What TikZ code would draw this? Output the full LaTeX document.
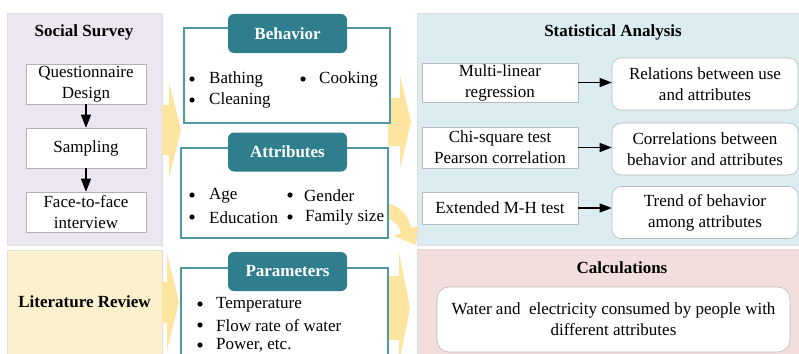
\documentclass[tikz,border=0pt]{standalone}
\usepackage{fontspec}
\setmainfont{Liberation Serif}
\usetikzlibrary{arrows.meta}
\definecolor{lav}{HTML}{EBE6F0}
\definecolor{litY}{HTML}{FDF0CD}
\definecolor{statB}{HTML}{DCEDF2}
\definecolor{calcP}{HTML}{F2DFDD}
\definecolor{tealT}{HTML}{2E7E8D}
\definecolor{tealF}{HTML}{4C9AA6}
\definecolor{arrY}{HTML}{FDE5A0}
\tikzset{
  panel/.style={draw=gray!25, line width=0.4pt},
  sbox/.style={draw=gray!60, fill=white, line width=0.6pt, align=center, inner sep=1pt, minimum width=120pt, minimum height=40pt},
  lbox/.style={draw=gray!55, fill=white, line width=0.6pt, align=center, inner sep=1pt, minimum width=156pt},
  rbox/.style={draw=gray!55, fill=white, line width=0.6pt, rounded corners=9pt, align=center, inner sep=1pt, minimum width=186pt, minimum height=52pt},
  frame/.style={draw=tealF, fill=white, line width=1.1pt, inner sep=0pt},
  tab/.style={fill=tealT, text=white, font=\fontsize{17}{21}\selectfont\bfseries, rounded corners=6pt, minimum width=119pt, minimum height=39pt, inner sep=0pt},
  bt/.style={anchor=west, inner sep=0pt},
  ttl/.style={font=\fontsize{17}{21}\selectfont\bfseries, inner sep=0pt},
  blk/.style={-{Triangle[length=13pt,width=10pt]}, line width=1.3pt},
  blkh/.style={-{Triangle[length=12pt,width=9pt]}, line width=1.3pt},
  yarr/.style={fill=arrY}
}
\begin{document}
\begin{tikzpicture}[x=1pt,y=-1pt, font=\fontsize{17}{21}\selectfont]
\useasboundingbox (0,0) rectangle (799,353);
% panels
\fill[white] (0,0) rectangle (799,353);
\path[panel, fill=lav] (7,13) rectangle (162,245);
\path[panel, fill=litY] (7,250) rectangle (162,356);
\path[panel, fill=statB] (417,13) rectangle (802,245);
\path[panel, fill=calcP] (417,249) rectangle (802,356);
% yellow arrows
\fill[yarr] (162,105) -- (169,105) -- (169,82) -- (181,130) -- (169,178) -- (169,155) -- (162,155) -- cycle;
\fill[yarr] (162,282) -- (167,282) -- (167,253) -- (179,302) -- (167,351) -- (167,323) -- (162,323) -- cycle;
\fill[yarr] (388,98) -- (400,98) -- (400,75) -- (411,122) -- (400,169) -- (400,146) -- (388,146) -- cycle;
\fill[yarr] (388,276) -- (399,276) -- (399,252) -- (410,308) -- (399,364) -- (399,340) -- (388,340) -- cycle;
\fill[yarr] (380,203) .. controls (398,203) and (408,213) .. (411,228) -- (418,226) -- (416,245) -- (394,236) -- (401,233) .. controls (399,224) and (392,218) .. (380,218) -- cycle;
% social survey
\node[ttl] (sst) at (84,32) {Social Survey};
\node[sbox] (qd) at (86,84) {Questionnaire\\Design};
\node[sbox] (sa) at (86,148) {Sampling};
\node[sbox] (ff) at (86,212) {Face-to-face\\interview};
\draw[blk] (qd.south) -- (sa.north);
\draw[blk] (sa.south) -- (ff.north);
\node[ttl] (lrt) at (84.5,302) {Literature Review};
% middle frames
\node[frame, minimum width=206pt, minimum height=95pt] (behf) at (287,75.5) {};
\node[tab] (beh) at (287.5,33.5) {Behavior};
\node[frame, minimum width=207pt, minimum height=90pt] (attf) at (284.5,193) {};
\node[tab] (att) at (287.5,152) {Attributes};
\node[frame, minimum width=207pt, minimum height=100pt] (parf) at (284.5,318) {};
\node[tab] (par) at (287.5,271.5) {Parameters};
% bullets behavior
\fill (192,79) circle (2.6);
\node[bt] (b1) at (209,79.5) {Bathing};
\fill (303,79) circle (2.6);
\node[bt] (b2) at (319,79.5) {Cooking};
\fill (192,100) circle (2.6);
\node[bt] (b3) at (209,100.5) {Cleaning};
% bullets attributes
\fill (192,195) circle (2.6);
\node[bt] (a1) at (209,195.5) {Age};
\fill (290,195) circle (2.6);
\node[bt] (a2) at (304,195.5) {Gender};
\fill (192,217) circle (2.6);
\node[bt] (a3) at (209,217.5) {Education};
\fill (290,217) circle (2.6);
\node[bt] (a4) at (305,217.5) {Family size};
% bullets parameters
\fill (200,304) circle (2.6);
\node[bt] (p1) at (216,304.5) {Temperature};
\fill (200,325) circle (2.6);
\node[bt] (p2) at (216,325.5) {Flow rate of water};
\fill (200,345) circle (2.6);
\node[bt] (p3) at (216,345.5) {Power, etc.};
% statistical analysis
\node[ttl] (sat) at (613,32) {Statistical Analysis};
\node[lbox, minimum height=39pt] (ml) at (500,82.5) {Multi-linear\\regression};
\node[lbox, minimum height=41pt] (cs) at (500,147.5) {Chi-square test\\Pearson correlation};
\node[lbox, minimum height=32pt] (mh) at (500,208) {Extended M-H test};
\node[rbox] (r1) at (705,84) {Relations between use\\and attributes};
\node[rbox] (r2) at (705,149) {Correlations between\\behavior and attributes};
\node[rbox] (r3) at (705,212.5) {Trend of behavior\\among attributes};
\draw[blkh] (ml.east) -- (r1.west |- ml.east);
\draw[blkh] (cs.east) -- (r2.west |- cs.east);
\draw[blkh] (mh.east) -- (r3.west |- mh.east);
% calculations
\node[ttl] (cat) at (622,268) {Calculations};
\node[rbox, minimum width=353pt, minimum height=65pt, rounded corners=12pt] (wa) at (613.5,319.5) {Water and\ \ electricity consumed by people with\\different attributes};
\end{tikzpicture}
\end{document}
